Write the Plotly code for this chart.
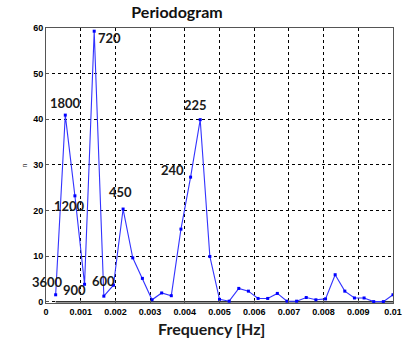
import plotly.graph_objects as go

# Frequency bins (Hz): k/3600 for k = 1..36
freq = [0.000278, 0.000556, 0.000833, 0.001111, 0.001389, 0.001667, 0.001944, 0.002222,
        0.0025, 0.002778, 0.003056, 0.003333, 0.003611, 0.003889, 0.004167, 0.004444,
        0.004722, 0.005, 0.005278, 0.005556, 0.005833, 0.006111, 0.006389, 0.006667,
        0.006944, 0.007222, 0.0075, 0.007778, 0.008056, 0.008333, 0.008611, 0.008889,
        0.009167, 0.009444, 0.009722, 0.01]
power = [1.5, 40.9, 23.2, 3.8, 59.3, 1.2, 3.6, 20.3,
         9.6, 5.1, 0.4, 1.9, 1.3, 15.9, 27.3, 39.9,
         9.9, 0.5, 0.1, 2.9, 2.3, 0.7, 0.7, 1.8,
         0.1, 0.1, 0.9, 0.4, 0.6, 5.9, 2.3, 0.8,
         0.8, 0.0, 0.0, 1.5]

# Period labels (s) and the index of the point they mark
label_text = ["3600", "1800", "1200", "900", "720", "600", "450", "240", "225"]
label_idx = [0, 1, 2, 3, 4, 5, 7, 14, 15]
label_dx = [-8, 0, -5, -10, 15, 0, -3, -18, -5]
label_dy = [13, 12, -10, -6, -7, 15, 17, 7, 15]

xtick_vals = [0, 0.001, 0.002, 0.003, 0.004, 0.005, 0.006, 0.007, 0.008, 0.009, 0.01]
xtick_text = ["0", "0.001", "0.002", "0.003", "0.004", "0.005", "0.006", "0.007", "0.008", "0.009", "0.01"]
ytick_vals = [0, 10, 20, 30, 40, 50, 60]

fig = go.Figure()
fig.add_trace(go.Scatter(x=[freq[0], freq[-1]], y=[0, 0], mode="lines",
                         line=dict(color="#333333", width=1.5), hoverinfo="skip",
                         showlegend=False))
fig.add_trace(go.Scatter(x=freq, y=power, mode="lines+markers",
                         line=dict(color="#3333ff", width=1.1),
                         marker=dict(symbol="square", size=3, color="#0000ff"),
                         showlegend=False))

for t, i, dx, dy in zip(label_text, label_idx, label_dx, label_dy):
    fig.add_annotation(x=freq[i], y=power[i], text=t, showarrow=False,
                       xshift=dx, yshift=dy, xanchor="center", yanchor="middle",
                       font=dict(family="Lato", size=13, color="#1a1a1a", weight="bold"))

fig.add_annotation(xref="paper", yref="paper", x=(211 - 46) / 347, y=-(328 - 303) / 274,
                   text="Frequency [Hz]", showarrow=False, xanchor="center", yanchor="middle",
                   font=dict(family="Lato", size=16, color="#1a1a1a", weight="bold"))

fig.update_layout(
    width=403, height=341,
    margin=dict(l=46, r=10, t=28, b=38),
    paper_bgcolor="white", plot_bgcolor="white",
    title=dict(text="<b>Periodogram</b>", xref="container", x=177 / 403, xanchor="center",
               y=1 - 12 / 341, yanchor="middle",
               font=dict(family="Lato", size=16, color="#111111")),
    xaxis=dict(range=[0, 0.01], tickvals=xtick_vals, ticktext=xtick_text, automargin=False,
               showgrid=True, gridcolor="#000000", gridwidth=1, griddash="3px,3px",
               showline=True, linecolor="#555555", linewidth=1, mirror=True,
               ticks="inside", ticklen=3, tickcolor="#555555",
               zeroline=False,
               tickfont=dict(family="Arial", size=9, color="#000000", weight="bold")),
    yaxis=dict(range=[-0.3, 60], tickvals=ytick_vals, automargin=False,
               showgrid=True, gridcolor="#000000", gridwidth=1, griddash="3px,3px",
               showline=True, linecolor="#555555", linewidth=1, mirror=True,
               ticks="inside", ticklen=3, tickcolor="#555555",
               zeroline=False,
               title=dict(text="n", standoff=4, font=dict(family="Arial", size=7, color="#333333")),
               tickfont=dict(family="Arial", size=9, color="#000000", weight="bold")),
)

fig.write_html("out.html")
